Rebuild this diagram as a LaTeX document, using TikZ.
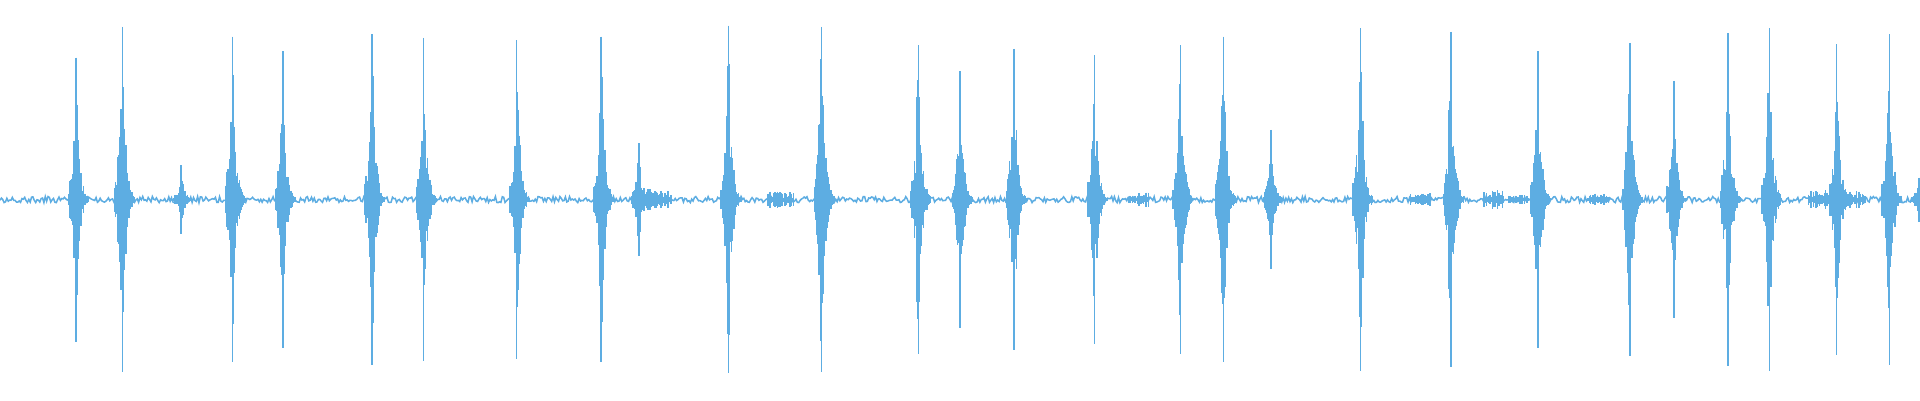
\documentclass[tikz,border=0pt]{standalone}
\definecolor{wave}{RGB}{93,173,226}
\begin{document}
\begin{tikzpicture}[x=0.01cm,y=-0.01cm,wv/.style={draw=wave,line width=0.35pt}]
\useasboundingbox[fill=white] (0,0) rectangle (1568,326.7);
\pgfmathsetseed{7}
\draw[wv] plot[domain=0:1568,samples=1400] (\x,{163+2.5*rand});
\foreach \x/\a in {62/47,100/22,148/135,190/30,231/42,304/28,346/31,422/33,491/30,522/117,595/21,671/22,750/37,784/58,828/40,894/45,964/37,999/30,1038/106,1111/23,1185/26,1256/42,1331/35,1367/66,1411/27,1445/23,1500/36,1543/28,1567/145}{
  \pgfmathsetmacro\A{163-\a}
  \foreach \d in {-6,-5.5,...,10}{
    \pgfmathsetmacro\h{\A*exp(-abs(\d)/2.6)*(0.3+0.7*rnd)}
    \draw[wv] (\x+\d,163-\h) -- (\x+\d,163+\h);
  }
  \draw[wv] (\x,163-\A) -- (\x,163+\A);
}
\foreach \x/\a in {530/9,540/8,635/7,640/6,930/6,1160/5,1220/9,1240/5,1305/5,1485/8,1515/7}{
  \foreach \d in {-8,-7,...,8}{
    \pgfmathsetmacro\h{\a*(0.2+0.8*rnd)}
    \draw[wv] (\x+\d,163-\h) -- (\x+\d,163+\h);
  }
}
\end{tikzpicture}
\end{document}
